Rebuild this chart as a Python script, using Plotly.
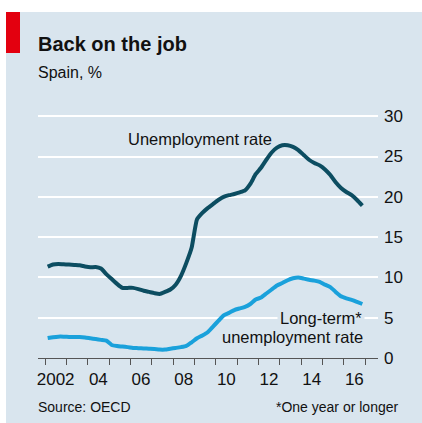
import plotly.graph_objects as go

# ---- data (quarterly, plotted at mid-quarter) ----
years = [2002, 2003, 2004, 2005, 2006, 2007, 2008, 2009, 2010, 2011, 2012, 2013, 2014, 2015, 2016]
unemployment = [
    11.33, 11.6, 11.66, 11.62,
    11.6, 11.55, 11.5, 11.35,
    11.25, 11.3, 11.1, 10.4,
    9.8, 9.2, 8.7, 8.7,
    8.7, 8.55, 8.35, 8.2,
    8.05, 7.95, 8.2, 8.5,
    9.1, 10.2, 11.8, 13.7,
    17.2, 18.0, 18.6, 19.1,
    19.6, 20.0, 20.2, 20.35,
    20.55, 20.8, 21.6, 22.8,
    23.6, 24.6, 25.5, 26.1,
    26.4, 26.4, 26.2, 25.8,
    25.2, 24.6, 24.2, 23.9,
    23.4, 22.7, 21.8, 21.1,
    20.6, 20.2, 19.6, 18.9,
]
long_term = [
    2.47, 2.58, 2.65, 2.65,
    2.62, 2.6, 2.6, 2.55,
    2.45, 2.35, 2.25, 2.15,
    1.62, 1.48, 1.42, 1.35,
    1.25, 1.22, 1.18, 1.15,
    1.12, 1.05, 1.05, 1.15,
    1.25, 1.35, 1.5, 1.95,
    2.45, 2.8, 3.2, 3.9,
    4.6, 5.3, 5.6, 5.95,
    6.15, 6.35, 6.7, 7.25,
    7.5, 8.0, 8.5, 9.0,
    9.3, 9.65, 9.9, 10.0,
    9.85, 9.7, 9.6, 9.45,
    9.1, 8.8, 8.2, 7.65,
    7.4, 7.2, 6.95, 6.7,
]
quarters = [y + (q + 0.5) / 4 for y in years for q in range(4)]
label_years = [2002, 2004, 2006, 2008, 2010, 2012, 2014, 2016]
label_text = ["2002", "04", "06", "08", "10", "12", "14", "16"]
y_ticks = [0, 5, 10, 15, 20, 25, 30]

# ---- styling ----
W, H = 422, 423
ML, MR, MT, MB = 38, 44, 115, 65
PANEL = "#d9e5ee"
DARK = "#0c4d61"
LIGHT = "#1aa1db"
FONT = "Liberation Sans, Arial, sans-serif"

pw = W - ML - MR
ph = H - MT - MB


def px_x(x):
    return (x - ML) / pw


def px_y(y):
    return (H - MB - y) / ph


fig = go.Figure()
fig.add_trace(go.Scatter(x=quarters, y=unemployment, mode="lines",
                         line=dict(color=DARK, width=4, shape="spline", smoothing=0.5),
                         hoverinfo="skip", showlegend=False))
fig.add_trace(go.Scatter(x=quarters, y=long_term, mode="lines",
                         line=dict(color=LIGHT, width=4, shape="spline", smoothing=0.5),
                         hoverinfo="skip", showlegend=False))

shapes = [
    dict(type="rect", xref="paper", yref="paper", x0=px_x(6), x1=px_x(W + 2),
         y0=px_y(H + 2), y1=px_y(12), fillcolor=PANEL, line=dict(width=0), layer="below"),
    dict(type="rect", xref="paper", yref="paper", x0=px_x(6), x1=px_x(20),
         y0=px_y(53), y1=px_y(12), fillcolor="#e3000f", line=dict(width=0), layer="below"),
]

annotations = [
    dict(text="<b>Back on the job</b>", xref="paper", yref="paper", x=px_x(36), y=px_y(44),
         xanchor="left", yanchor="middle", showarrow=False,
         font=dict(family=FONT, size=20, color="#111111")),
    dict(text="Spain, %", xref="paper", yref="paper", x=px_x(36), y=px_y(73),
         xanchor="left", yanchor="middle", showarrow=False,
         font=dict(family=FONT, size=16, color="#111111")),
    dict(text="Unemployment rate", xref="paper", yref="paper", x=px_x(274), y=px_y(139),
         xanchor="right", yanchor="middle", showarrow=False,
         font=dict(family=FONT, size=16.5, color="#111111")),
    dict(text="Long-term*", xref="paper", yref="paper", x=px_x(365), y=px_y(318),
         xanchor="right", yanchor="middle", showarrow=False, bgcolor=PANEL, borderpad=2,
         font=dict(family=FONT, size=16.5, color="#111111")),
    dict(text="unemployment rate", xref="paper", yref="paper", x=px_x(365), y=px_y(337),
         xanchor="right", yanchor="middle", showarrow=False,
         font=dict(family=FONT, size=16.5, color="#111111")),
    dict(text="Source: OECD", xref="paper", yref="paper", x=px_x(36), y=px_y(407),
         xanchor="left", yanchor="middle", showarrow=False,
         font=dict(family=FONT, size=14, color="#111111")),
    dict(text="*One year or longer", xref="paper", yref="paper", x=px_x(401), y=px_y(407),
         xanchor="right", yanchor="middle", showarrow=False,
         font=dict(family=FONT, size=14, color="#111111")),
]

fig.update_layout(
    width=W, height=H,
    margin=dict(l=ML, r=MR, t=MT, b=MB, pad=0),
    paper_bgcolor="white",
    plot_bgcolor=PANEL,
    shapes=shapes,
    annotations=annotations,
    font=dict(family=FONT, color="#111111"),
    xaxis=dict(
        range=[2001.672, 2017.609],
        tickmode="array", tickvals=[y + 0.5 for y in label_years], ticktext=label_text,
        ticks="", showgrid=False, zeroline=False,
        showline=True, linecolor="#555555", linewidth=1,
        tickfont=dict(family=FONT, size=17, color="#111111"),
        ticklabelstandoff=6,
        minor=dict(tickmode="linear", tick0=2002, dtick=1, ticks="outside",
                   ticklen=6, tickwidth=1, tickcolor="#555555", showgrid=False),
        fixedrange=True,
    ),
    yaxis=dict(
        range=[0, 30.15], side="right",
        tickmode="array", tickvals=y_ticks,
        ticks="", showgrid=True, gridcolor="white", gridwidth=2,
        zeroline=False, showline=False,
        tickfont=dict(family=FONT, size=17, color="#111111"),
        ticklabelstandoff=5,
        fixedrange=True,
    ),
)

fig.write_html(
    "out.html",
    config={"displayModeBar": False},
    post_script="document.body.style.margin='0';document.body.style.overflow='hidden';",
)
